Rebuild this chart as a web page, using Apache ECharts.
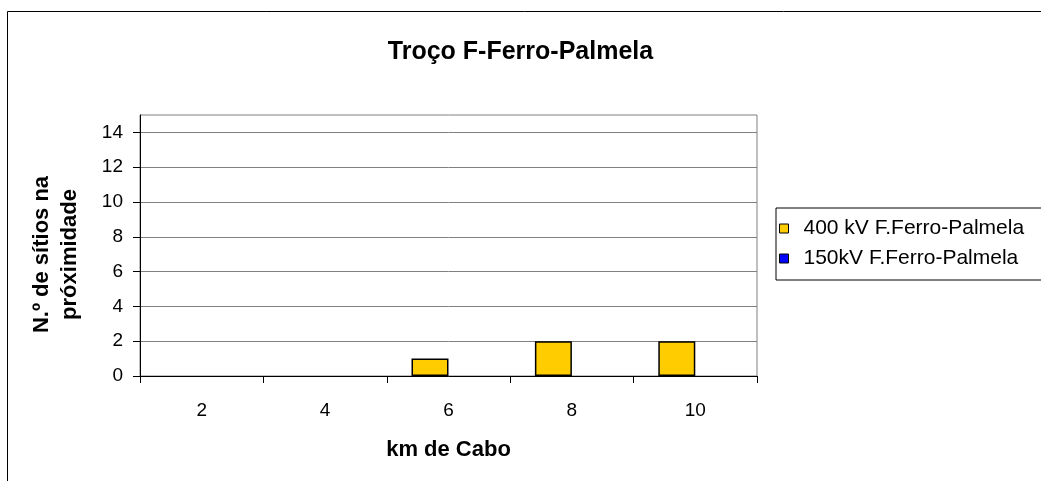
<!DOCTYPE html>
<html>
<head>
<meta charset="utf-8">
<script src="https://cdn.jsdelivr.net/npm/echarts@6/dist/echarts.min.js"></script>
<style>
html,body{margin:0;padding:0;background:#fff;}
#c{width:1041px;height:481px;}
</style>
</head>
<body>
<div id="c"></div>
<script>
const categories = ['2', '4', '6', '8', '10'];
const series400 = [0, 0, 1, 2, 2];
const series150 = [0, 0, 0, 0, 0];
const yTicks = [0, 2, 4, 6, 8, 10, 12, 14];
const seriesNames = ['400 kV F.Ferro-Palmela', '150kV F.Ferro-Palmela'];
const seriesColors = ['#FFCC00', '#0000FF'];
const titleText = 'Troço F-Ferro-Palmela';
const xName = 'km de Cabo';
const yName = 'N.º de sítios na\npróximidade';

const FONT = 'Arial, "Liberation Sans", sans-serif';

function toItems(values) {
  // zero-height bars are not drawn with an outline (as in the reference)
  return values.map(v => v === 0 ? {value: v, itemStyle: {borderWidth: 0}} : v);
}

const chart = echarts.init(document.getElementById('c'), null, {renderer: 'canvas'});
chart.setOption({
  backgroundColor: '#fff',
  animation: false,
  textStyle: {fontFamily: FONT},
  graphic: [{
    type: 'rect', z: -1,
    shape: {x: 7.5, y: 11.5, width: 1100, height: 600},
    style: {fill: 'none', stroke: '#000', lineWidth: 1}
  }],
  title: {
    text: titleText, left: 'center', top: 35,
    textStyle: {fontFamily: FONT, fontSize: 25, fontWeight: 'bold', color: '#000'}
  },
  legend: {
    orient: 'vertical', left: 776, top: 208,
    padding: [10, 60, 11, 3],
    itemGap: 9, itemWidth: 9, itemHeight: 9,
    borderColor: '#000', borderWidth: 1, backgroundColor: '#fff',
    icon: 'rect',
    textStyle: {fontFamily: FONT, fontSize: 21, color: '#000', padding: [0, 0, 0, 10]},
    data: seriesNames.map((n, i) => ({
      name: n,
      itemStyle: {color: seriesColors[i], borderColor: '#000', borderWidth: 1}
    }))
  },
  grid: {
    left: 140, right: 284, top: 115, bottom: 105,
    show: true, borderColor: '#808080', borderWidth: 1, backgroundColor: '#fff'
  },
  xAxis: {
    type: 'category', data: categories,
    name: xName, nameLocation: 'middle', nameGap: 63,
    nameTextStyle: {fontFamily: FONT, fontSize: 22, fontWeight: 'bold', color: '#000'},
    axisLine: {lineStyle: {color: '#000', width: 1}},
    axisTick: {show: true, length: 7, lineStyle: {color: '#000'}},
    axisLabel: {fontFamily: FONT, fontSize: 19, color: '#000', margin: 25},
    splitLine: {show: false}
  },
  yAxis: {
    type: 'value', min: 0, max: 15, interval: 2,
    name: yName, nameLocation: 'middle', nameGap: 56, nameRotate: 90,
    nameTextStyle: {fontFamily: FONT, fontSize: 22, fontWeight: 'bold', color: '#000', lineHeight: 28, align: 'center', padding: [0, 18, 0, 0]},
    axisLine: {show: true, lineStyle: {color: '#000', width: 1}},
    axisTick: {show: true, length: 7, lineStyle: {color: '#000'}, customValues: yTicks},
    axisLabel: {fontFamily: FONT, fontSize: 19, color: '#000', margin: 17, customValues: yTicks},
    splitLine: {show: true, lineStyle: {color: '#808080', width: 1}}
  },
  series: [
    {
      name: seriesNames[0], type: 'bar', data: toItems(series400),
      barWidth: 37, barGap: '0%',
      itemStyle: {color: seriesColors[0], borderColor: '#000', borderWidth: 1.5}
    },
    {
      name: seriesNames[1], type: 'bar', data: toItems(series150),
      barWidth: 37, barGap: '0%',
      itemStyle: {color: seriesColors[1], borderColor: '#000', borderWidth: 1}
    }
  ]
});
</script>
</body>
</html>
